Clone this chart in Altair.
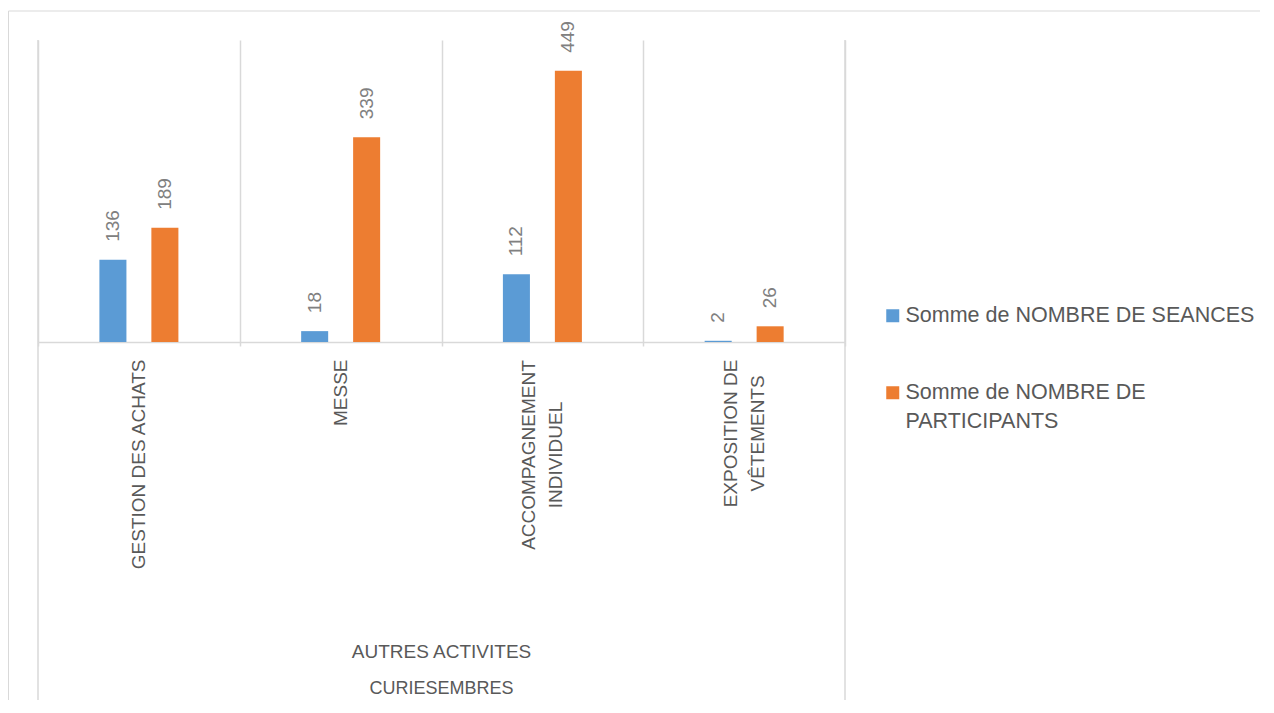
import altair as alt
import pandas as pd

# ---- data ----
categories = ["GESTION DES ACHATS", "MESSE", "ACCOMPAGNEMENT INDIVIDUEL", "EXPOSITION DE VÊTEMENTS"]
category_lines = [["GESTION DES ACHATS"], ["MESSE"], ["ACCOMPAGNEMENT", "INDIVIDUEL"], ["EXPOSITION DE", "VÊTEMENTS"]]
series = ["Somme de NOMBRE DE SEANCES", "Somme de NOMBRE DE PARTICIPANTS"]
series_lines = [["Somme de NOMBRE DE SEANCES"], ["Somme de NOMBRE DE", "PARTICIPANTS"]]
seances = [136, 18, 112, 2]
participants = [189, 339, 449, 26]
group_level1 = ["AUTRES ACTIVITES"]
group_level2 = ["CURIESEMBRES"]
colors = ["#5B9BD5", "#ED7D31"]

rows = []
for c, s, p in zip(categories, seances, participants):
    rows.append({"categorie": c, "serie": series[0], "valeur": s})
    rows.append({"categorie": c, "serie": series[1], "valeur": p})
df = pd.DataFrame(rows)


def js_list(lines):
    return "[" + ",".join("'" + l + "'" for l in lines) + "]"


x_label_expr = " : ".join(
    f"datum.value == '{c}' ? {js_list(l)}" for c, l in zip(categories, category_lines)
) + " : datum.label"
legend_label_expr = " : ".join(
    f"datum.value == '{s}' ? {js_list(l)}" for s, l in zip(series, series_lines)
) + " : datum.label"

W, H = 807, 302
FONT = "Liberation Sans"
GRID = "#D9D9D9"
CAT_FS = 19
CAT_LH = 27
BASE_PAD = 13

# approximate Arial/Liberation Sans advance widths (em) to centre wrapped labels
_adv = {"A": .667, "B": .667, "C": .722, "D": .722, "E": .667, "Ê": .667, "G": .778, "H": .722,
        "I": .278, "L": .556, "M": .833, "N": .722, "O": .778, "P": .667, "S": .667, "T": .611,
        "U": .722, "V": .667, "X": .667, " ": .278}


def text_len(s):
    return sum(_adv.get(ch, .667) for ch in s) * CAT_FS


pad_conds, off_conds, align_conds = [], [], []
for c, lines in zip(categories, category_lines):
    if len(lines) > 1:
        test = f"datum.value == '{c}'"
        pad_conds.append({"test": test, "value": BASE_PAD + max(text_len(l) for l in lines) / 2})
        off_conds.append({"test": test, "value": -(len(lines) - 1) * CAT_LH / 2})
        align_conds.append({"test": test, "value": "center"})

x = alt.X(
    "categorie:N",
    sort=categories,
    scale=alt.Scale(paddingInner=0, paddingOuter=0),
    axis=alt.Axis(
        title=None,
        labelAngle=270,
        labelAlign={"condition": align_conds, "value": "right"},
        labelBaseline="middle",
        labelExpr=x_label_expr,
        labelFont=FONT,
        labelFontSize=CAT_FS,
        labelColor="#595959",
        labelLineHeight=CAT_LH,
        labelPadding={"condition": pad_conds, "value": BASE_PAD},
        labelOffset={"condition": off_conds, "value": 0},
        labelLimit=400,
        tickBand="extent",
        tickSize=4,
        tickColor=GRID,
        tickWidth=1.5,
        domainColor=GRID,
        domainWidth=1.5,
        grid=True,
        gridColor=GRID,
        gridWidth=1.5,
    ),
)
xoff = alt.XOffset(
    "serie:N",
    sort=series,
    scale=alt.Scale(range=[61.4, 140.4], paddingInner=0.48, paddingOuter=0),
)
y = alt.Y("valeur:Q", scale=alt.Scale(domain=[0, 500], nice=False), axis=None)
color = alt.Color(
    "serie:N",
    sort=series,
    scale=alt.Scale(domain=series, range=colors),
    legend=alt.Legend(
        title=None,
        orient="none",
        legendX=844,
        legendY=265,
        symbolType="square",
        symbolSize=169,
        symbolStrokeWidth=0,
        labelFont=FONT,
        labelFontSize=21.5,
        labelColor="#595959",
        labelLimit=420,
        labelOffset=2,
        labelExpr=legend_label_expr,
        rowPadding=54,
        padding=0,
    ),
)

bars = alt.Chart(df).mark_bar().encode(x=x, xOffset=xoff, y=y, color=color)

values = alt.Chart(df).mark_text(
    angle=270, align="left", baseline="middle", dx=18,
    fontSize=19, color="#808080", font=FONT,
).encode(x=x, xOffset=xoff, y=y, text="valeur:Q")

one = pd.DataFrame({"k": [0]})
left_line = alt.Chart(one).mark_rule(color=GRID, strokeWidth=1.5).encode(
    x=alt.value(0), y=alt.value(0), y2=alt.value(668))
right_line = alt.Chart(one).mark_rule(color=GRID, strokeWidth=1.5).encode(
    x=alt.value(W), y=alt.value(0), y2=alt.value(668))
border_top = alt.Chart(one).mark_rule(color=GRID, strokeWidth=1).encode(
    x=alt.value(-29.5), x2=alt.value(1300), y=alt.value(-29))
border_left = alt.Chart(one).mark_rule(color=GRID, strokeWidth=1).encode(
    x=alt.value(-29.5), y=alt.value(-29), y2=alt.value(700))

lvl1 = alt.Chart(pd.DataFrame({"t": group_level1})).mark_text(
    fontSize=19, color="#595959", font=FONT, baseline="middle", align="center"
).encode(text="t:N", x=alt.value(W / 2), y=alt.value(612))
lvl2 = alt.Chart(pd.DataFrame({"t": group_level2})).mark_text(
    fontSize=18, color="#595959", font=FONT, baseline="middle", align="center"
).encode(text="t:N", x=alt.value(W / 2), y=alt.value(649))

chart = alt.layer(
    border_top, border_left, bars, values, left_line, right_line, lvl1, lvl2
).properties(
    width=W,
    height=H,
    autosize=alt.AutoSizeParams(type="none"),
    padding={"left": 30, "top": 32, "right": 415, "bottom": 358},
    background="white",
).configure(
    view=alt.ViewConfig(stroke=None),
    style={"guide-label": {"lineHeight": 29}},
)

chart.save("out.html", embed_options={"renderer": "svg", "actions": False})
